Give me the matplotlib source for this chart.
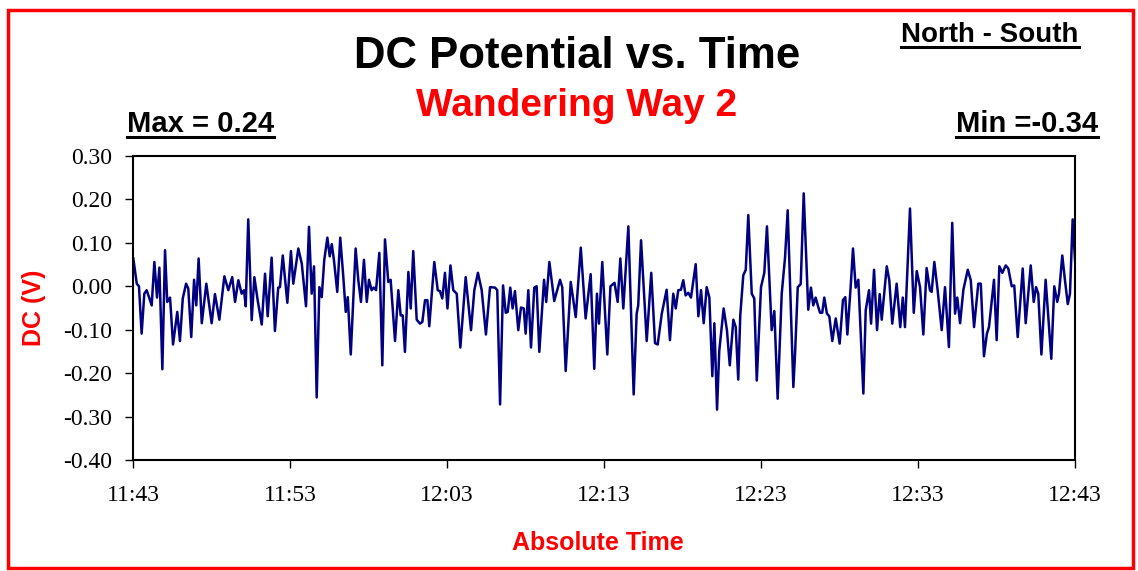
import matplotlib
matplotlib.use("Agg")
import matplotlib.pyplot as plt
from matplotlib.patches import Rectangle
from matplotlib.lines import Line2D

# minutes after 11:43 and DC potential (V)
minutes = [
    0.02, 0.24, 0.38, 0.55, 0.72, 0.87, 1.02, 1.19, 1.36, 1.53, 1.68, 1.87, 2.04, 2.18, 2.36,
    2.55, 2.82, 2.99, 3.17, 3.38, 3.52, 3.71, 3.89, 4.03, 4.18, 4.38, 4.67, 5.01, 5.22, 5.50,
    5.82, 6.07, 6.32, 6.50, 6.71, 6.92, 7.07, 7.18, 7.34, 7.56, 7.73, 7.94, 8.20, 8.41, 8.58,
    8.83, 9.04, 9.25, 9.36, 9.54, 9.83, 10.06, 10.21, 10.53, 10.75, 11.02, 11.21, 11.38, 11.53,
    11.70, 11.87, 12.02, 12.18, 12.38, 12.53, 12.66, 12.80, 13.01, 13.20, 13.38, 13.55, 13.68,
    13.87, 14.18, 14.35, 14.52, 14.71, 14.89, 15.03, 15.20, 15.33, 15.48, 15.69, 15.88, 16.05,
    16.26, 16.41, 16.69, 16.90, 17.05, 17.18, 17.32, 17.54, 17.69, 17.85, 18.07, 18.28, 18.43,
    18.60, 18.75, 18.87, 19.19, 19.41, 19.55, 19.70, 19.87, 20.03, 20.22, 20.40, 20.62, 20.85,
    21.19, 21.53, 21.74, 21.97, 22.21, 22.48, 22.74, 23.06, 23.20, 23.38, 23.57, 23.74, 23.87,
    24.03, 24.18, 24.33, 24.54, 24.71, 24.89, 25.01, 25.18, 25.35, 25.56, 25.71, 25.88, 26.18,
    26.32, 26.52, 26.83, 27.20, 27.34, 27.56, 27.88, 28.20, 28.52, 28.83, 29.15, 29.38, 29.55,
    29.68, 29.89, 30.21, 30.41, 30.67, 30.87, 31.04, 31.23, 31.55, 31.89, 32.08, 32.18, 32.36,
    32.72, 33.01, 33.25, 33.42, 33.68, 33.99, 34.20, 34.41, 34.57, 34.73, 34.90, 35.05, 35.20,
    35.37, 35.54, 35.84, 36.01, 36.18, 36.35, 36.54, 36.71, 36.90, 37.03, 37.20, 37.34, 37.62,
    37.83, 38.01, 38.24, 38.39, 38.55, 38.68, 38.87, 39.03, 39.19, 39.41, 39.57, 39.73, 40.00,
    40.21, 40.38, 40.68, 40.85, 41.06, 41.32, 41.53, 41.70, 42.06, 42.17, 42.34, 42.53, 42.72,
    43.01, 43.18, 43.33, 43.48, 43.65, 43.76, 43.90, 44.03, 44.20, 44.35, 44.54, 44.76, 45.01,
    45.22, 45.37, 45.50, 45.71, 45.86, 46.03, 46.20, 46.52, 46.67, 46.88, 47.01, 47.20, 47.39,
    47.56, 47.69, 48.01, 48.17, 48.36, 48.64, 48.87, 49.03, 49.17, 49.49, 49.73, 49.92, 50.13,
    50.34, 50.55, 50.76, 50.87, 51.04, 51.25, 51.51, 51.72, 51.97, 52.18, 52.36, 52.50, 52.68,
    52.89, 53.17, 53.36, 53.57, 53.84, 54.00, 54.20, 54.39, 54.52, 54.84, 55.01, 55.18, 55.37,
    55.59, 55.75, 55.97, 56.13, 56.35, 56.67, 56.86, 57.18, 57.37, 57.52, 57.66, 57.86, 58.13,
    58.49, 58.68, 58.87, 58.98, 59.19, 59.36, 59.54, 59.68, 59.85, 60.00,
]
dc_volts = [
    0.064, 0.006, 0.000, -0.109, -0.017, -0.009, -0.025, -0.044, 0.056, -0.026, 0.043, -0.191, 0.083, -0.036, -0.026,
    -0.134, -0.059, -0.126, -0.028, 0.006, -0.005, -0.117, 0.015, -0.044, 0.064, -0.085, 0.006, -0.085, -0.018, -0.077,
    0.023, -0.009, 0.021, -0.036, 0.014, -0.017, -0.009, -0.046, 0.154, -0.078, 0.021, -0.032, -0.088, 0.029, -0.069,
    0.066, -0.103, -0.003, -0.002, 0.071, -0.038, 0.081, 0.006, 0.087, 0.052, -0.046, 0.137, -0.017, 0.046,
    -0.256, -0.002, -0.025, 0.060, 0.112, 0.069, 0.097, 0.060, -0.013, 0.112, 0.029, -0.059, -0.025,
    -0.157, 0.087, 0.014, -0.036, 0.061, -0.036, 0.015, -0.009, -0.003, -0.009, 0.077, -0.182, 0.108,
    0.010, 0.015, -0.126, -0.009, -0.067, -0.067, -0.151, 0.033, -0.051, 0.081, -0.077, -0.086, -0.082,
    -0.032, -0.032, -0.092, 0.056, -0.009, -0.011, -0.028, 0.031, -0.051, 0.048, -0.009, -0.017, -0.141,
    0.021, -0.101, -0.009, 0.031, -0.009, -0.111, -0.002, -0.003, -0.009, -0.272, 0.002, -0.061, -0.059,
    -0.003, -0.051, -0.011, -0.101, -0.049, -0.051, -0.109, -0.009, -0.141, -0.003, 0.000, -0.151, 0.015,
    -0.036, 0.056, -0.034, 0.015, -0.002, -0.195, 0.010, -0.071, 0.089, -0.074, 0.028, -0.190, -0.017,
    -0.086, 0.056, -0.157, 0.000, 0.008, -0.036, 0.064, -0.051, 0.138, -0.249, -0.063, -0.044, 0.106,
    -0.126, 0.031, -0.131, -0.134, -0.063, -0.008, -0.124, -0.017, -0.051, -0.009, -0.008, 0.014, -0.021,
    -0.015, -0.026, 0.051, -0.069, -0.009, -0.085, -0.002, -0.026, -0.207, -0.085, -0.284, -0.149, -0.051,
    -0.101, -0.182, -0.077, -0.094, -0.215, -0.067, 0.025, 0.038, 0.164, -0.017, -0.028, -0.217, -0.002,
    0.031, 0.138, -0.101, -0.057, -0.259, -0.017, 0.066, 0.175, -0.232, -0.155, -0.002, 0.005, 0.214,
    -0.054, -0.003, -0.044, -0.026, -0.048, -0.061, -0.061, -0.026, -0.063, -0.069, -0.126, -0.074, -0.132,
    -0.032, -0.025, -0.111, -0.002, 0.087, -0.003, 0.015, -0.247, -0.055, -0.009, -0.086, 0.038, -0.101,
    -0.018, -0.077, 0.046, 0.014, -0.086, 0.006, -0.094, -0.026, -0.094, 0.179, -0.061, 0.035, -0.002,
    -0.111, 0.042, -0.009, -0.013, 0.056, -0.009, -0.101, -0.002, -0.140, 0.146, -0.063, -0.026, -0.085,
    -0.008, 0.038, 0.014, -0.094, 0.006, 0.006, -0.161, -0.109, -0.094, 0.015, -0.124, 0.046, 0.031,
    0.048, 0.041, 0.000, 0.002, -0.117, 0.041, -0.085, 0.048, -0.036, -0.002, -0.017, -0.157, 0.015,
    -0.167, 0.000, -0.036, -0.017, 0.071, 0.014, -0.041, -0.017, 0.154, 0.060,
]

tick_minutes = [0, 10, 20, 30, 40, 50, 60]
tick_labels = ["11:43", "11:53", "12:03", "12:13", "12:23", "12:33", "12:43"]
y_ticks = [0.30, 0.20, 0.10, 0.00, -0.10, -0.20, -0.30, -0.40]

W, H = 1138, 571
fig = plt.figure(figsize=(W / 100, H / 100), dpi=100)
ax = fig.add_axes([133 / W, 1 - 460 / H, (1075 - 133) / W, (460 - 156) / H])

ax.plot(minutes, dc_volts, color="#000080", lw=1.8)
ax.set_xlim(0, 60)
ax.set_ylim(-0.40, 0.30)
ax.set_xticks(tick_minutes)
ax.set_xticklabels(tick_labels)
ax.set_yticks(y_ticks)
ax.set_yticklabels([f"{v:.2f}" for v in y_ticks])
for lab in ax.get_xticklabels() + ax.get_yticklabels():
    lab.set_fontfamily("Liberation Serif")
    lab.set_fontsize(17)
ax.tick_params(axis="x", length=6, width=1, pad=12)
ax.tick_params(axis="y", length=6, width=1, pad=9)
for s in ax.spines.values():
    s.set_linewidth(1.5)

ax.set_ylabel("DC (V)", color="red", fontsize=18, fontweight="bold",
              family="Liberation Sans", labelpad=12)
fig.text(598 / W, 1 - 550 / H, "Absolute Time", color="red", fontsize=18,
         fontweight="bold", family="Liberation Sans", ha="center", va="baseline")

fig.text(577 / W, 1 - 68 / H, "DC Potential vs. Time", fontsize=31.5,
         fontweight="bold", family="Liberation Sans", ha="center", va="baseline")
fig.text(577 / W, 1 - 116 / H, "Wandering Way 2", color="red", fontsize=28,
         fontweight="bold", family="Liberation Sans", ha="center", va="baseline")

corner = [
    fig.text(990 / W, 1 - 42 / H, "North - South", fontsize=20, fontweight="bold",
             family="Liberation Sans", ha="center", va="baseline"),
    fig.text(127 / W, 1 - 132 / H, "Max = 0.24", fontsize=21, fontweight="bold",
             family="Liberation Sans", ha="left", va="baseline"),
    fig.text(1098 / W, 1 - 132 / H, "Min =-0.34", fontsize=21, fontweight="bold",
             family="Liberation Sans", ha="right", va="baseline"),
]

# red frame round the whole picture
fig.add_artist(Rectangle((8 / W, 1 - 568 / H), 1125 / W, 558 / H,
                         transform=fig.transFigure, fill=False,
                         edgecolor="red", lw=2.5))

# underline the corner labels
fig.canvas.draw()
r = fig.canvas.get_renderer()
for t in corner:
    bb = t.get_window_extent(r)
    yb = t.get_position()[1] - 5 / H
    fig.add_artist(Line2D([bb.x0 / W, bb.x1 / W], [yb, yb],
                          transform=fig.transFigure, color="black", lw=2.2))

fig.savefig("out.png", dpi=100)
